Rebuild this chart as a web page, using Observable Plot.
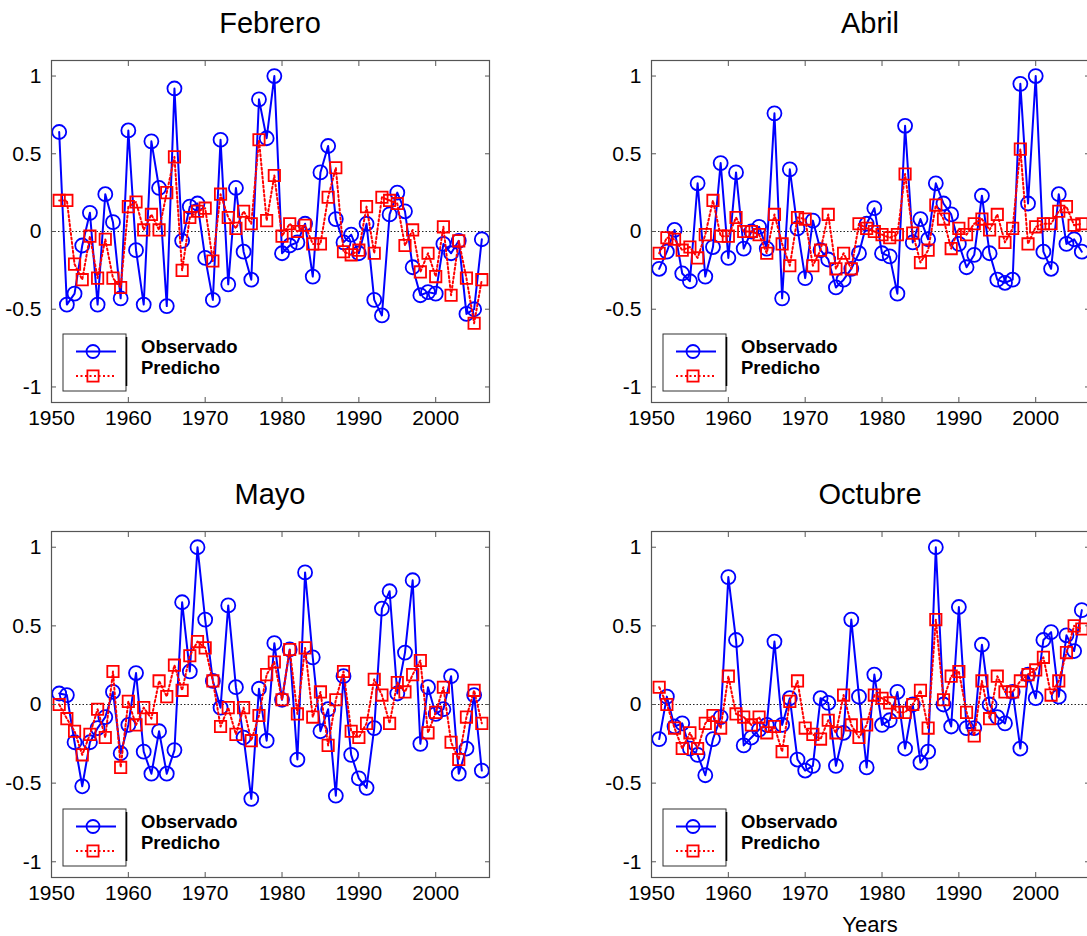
<!DOCTYPE html>
<html>
<head>
<meta charset="utf-8">
<script src="https://cdn.jsdelivr.net/npm/d3@7"></script>
<script src="https://cdn.jsdelivr.net/npm/@observablehq/plot@0.6"></script>
<style>
  html, body { margin: 0; padding: 0; background: #fff; overflow: hidden; }
  #root { position: relative; width: 1087px; height: 936px; overflow: hidden; background: #fff; }
  .panel { position: absolute; width: 520px; }
  .panel svg { display: block; max-width: none; }
</style>
</head>
<body>
<div id="root"></div>
<script>
// ---------------- DATA ----------------
const years = d3.range(1951, 2007); // 1951..2006
const xTicks = [1950, 1960, 1970, 1980, 1990, 2000];
const yTicks = [-1, -0.5, 0, 0.5, 1];
const titles = ["Febrero", "Abril", "Mayo", "Octubre"];
const legendLabels = ["Observado", "Predicho"];
const xAxisLabel = "Years";

const febreroObs = [0.64,-0.47,-0.40,-0.09,0.12,-0.47,0.24,0.06,-0.43,0.65,
  -0.12,-0.47,0.58,0.28,-0.48,0.92,-0.06,0.16,0.18,-0.17,
  -0.44,0.59,-0.34,0.28,-0.13,-0.31,0.85,0.60,1.00,-0.14,
  -0.09,-0.07,0.05,-0.29,0.38,0.55,0.08,-0.07,-0.02,-0.14,
  0.05,-0.44,-0.54,0.11,0.25,0.13,-0.23,-0.41,-0.39,-0.40,
  -0.08,-0.14,-0.06,-0.53,-0.50,-0.05];
const febreroPred = [0.20,0.20,-0.21,-0.31,-0.03,-0.30,-0.05,-0.30,-0.36,0.16,
  0.19,0.01,0.11,0.01,0.25,0.48,-0.25,0.09,0.13,0.15,
  -0.19,0.24,0.09,0.02,0.13,0.05,0.59,0.07,0.36,-0.03,
  0.05,0.00,0.04,-0.08,-0.08,0.22,0.41,-0.13,-0.15,-0.12,
  0.16,-0.14,0.22,0.20,0.18,-0.09,0.01,-0.26,-0.14,-0.29,
  0.03,-0.41,-0.06,-0.30,-0.59,-0.31];

const abrilObs = [-0.24,-0.13,0.01,-0.27,-0.32,0.31,-0.29,-0.10,0.44,-0.17,
  0.38,-0.11,0.00,0.03,-0.11,0.76,-0.43,0.40,0.02,-0.30,
  0.07,-0.12,-0.18,-0.36,-0.31,-0.24,-0.14,0.05,0.15,-0.14,
  -0.16,-0.40,0.68,-0.07,0.08,-0.05,0.31,0.18,0.11,-0.08,
  -0.23,-0.15,0.23,-0.14,-0.31,-0.33,-0.31,0.95,0.18,1.00,
  -0.13,-0.24,0.24,-0.08,-0.05,-0.13];
const abrilPred = [-0.14,-0.04,-0.05,-0.12,-0.10,-0.17,-0.02,0.20,-0.03,-0.03,
  0.09,0.00,0.00,-0.02,-0.14,0.11,-0.08,-0.22,0.09,0.08,
  -0.22,-0.12,0.11,-0.24,-0.14,-0.24,0.05,0.02,0.00,-0.02,
  -0.04,-0.02,0.37,-0.01,-0.20,-0.12,0.17,0.08,-0.11,0.02,
  -0.02,0.05,0.08,0.01,0.11,-0.07,0.02,0.53,-0.08,0.03,
  0.05,0.05,0.13,0.16,0.04,0.05];

const mayoObs = [0.07,0.06,-0.24,-0.52,-0.24,-0.15,-0.08,0.08,-0.31,-0.13,
  0.20,-0.30,-0.44,-0.17,-0.44,-0.29,0.65,0.21,1.00,0.54,
  0.15,-0.02,0.63,0.11,-0.21,-0.60,0.10,-0.23,0.39,0.03,
  0.35,-0.35,0.84,0.30,-0.17,-0.03,-0.58,0.18,-0.32,-0.47,
  -0.53,-0.15,0.61,0.72,0.07,0.33,0.79,-0.25,0.11,-0.06,
  -0.03,0.18,-0.44,-0.28,0.06,-0.42];
const mayoPred = [0.00,-0.09,-0.17,-0.32,-0.19,-0.03,-0.21,0.21,-0.40,0.02,
  -0.13,-0.02,-0.09,0.15,0.05,0.25,0.09,0.31,0.40,0.36,
  0.15,-0.14,-0.02,-0.19,-0.02,-0.23,-0.07,0.19,0.27,0.03,
  0.35,-0.06,0.36,-0.08,0.08,-0.26,0.03,0.21,-0.17,-0.21,
  -0.12,0.16,0.06,-0.12,0.14,0.08,0.19,0.28,-0.18,-0.05,
  0.11,-0.24,-0.35,-0.08,0.09,-0.12];

const octubreObs = [-0.22,0.05,-0.14,-0.12,-0.28,-0.32,-0.45,-0.22,-0.08,0.81,
  0.41,-0.26,-0.21,-0.16,-0.13,0.40,-0.13,0.04,-0.35,-0.42,
  -0.39,0.04,0.01,-0.39,-0.18,0.54,0.05,-0.40,0.19,-0.13,
  -0.10,0.08,-0.28,0.00,-0.37,-0.30,1.00,0.00,-0.14,0.62,
  -0.15,-0.15,0.38,0.00,-0.08,-0.12,0.08,-0.28,0.19,0.04,
  0.41,0.46,0.05,0.44,0.34,0.60];
const octubrePred = [0.11,0.00,-0.15,-0.28,-0.18,-0.28,-0.12,-0.07,-0.15,0.18,
  -0.06,-0.08,-0.13,-0.08,-0.18,-0.14,-0.30,0.02,0.15,-0.15,
  -0.19,-0.22,-0.10,-0.18,0.06,-0.13,-0.21,-0.13,0.06,0.04,
  0.01,-0.05,-0.05,0.00,0.09,-0.15,0.54,0.03,0.18,0.21,
  -0.05,-0.20,0.15,-0.09,0.18,0.08,0.08,0.15,0.19,0.22,
  0.30,0.06,0.15,0.33,0.50,0.48];

const series = [
  [febreroObs, febreroPred],
  [abrilObs, abrilPred],
  [mayoObs, mayoPred],
  [octubreObs, octubrePred]
];

// ---------------- LAYOUT / STYLE ----------------
const FONT = "Arial, 'Liberation Sans', Helvetica, sans-serif";
const BLUE = "#0000ff", RED = "#ff0000", FRAME = "#555";
const M = {l: 51, r: 14, t: 60, b: 60};
const innerW = 438;
const layout = [
  {left: 0,   top: 0,   plotH: 342},
  {left: 600, top: 0,   plotH: 342},
  {left: 0,   top: 471, plotH: 346},
  {left: 600, top: 471, plotH: 346, xlabel: true}
];

const root = document.getElementById("root");

function makePanel(obs, pred, plotH) {
  const rows = years.map((year, i) => ({year, obs: obs[i], pred: pred[i]}));
  return Plot.plot({
    width: M.l + innerW + M.r,
    height: M.t + plotH + M.b,
    marginLeft: M.l, marginRight: M.r, marginTop: M.t, marginBottom: M.b,
    style: {fontFamily: FONT, fontSize: "21px", color: "#000", background: "transparent", maxWidth: "none"},
    x: {domain: [1950, 2007], label: null},
    y: {domain: [-1.1, 1.1], label: null},
    marks: [
      Plot.ruleY([0], {stroke: "#222", strokeWidth: 1, strokeDasharray: "1.5,2"}),
      Plot.line(rows, {x: "year", y: "obs", stroke: BLUE, strokeWidth: 2}),
      Plot.dot(rows, {x: "year", y: "obs", r: 7, stroke: BLUE, strokeWidth: 1.8, fill: "none"}),
      Plot.line(rows, {x: "year", y: "pred", stroke: RED, strokeWidth: 2, strokeDasharray: "2,2.5"}),
      Plot.dot(rows, {x: "year", y: "pred", r: 6.4, symbol: "square", stroke: RED, strokeWidth: 1.8, fill: "none"}),
      Plot.frame({stroke: FRAME, strokeWidth: 1.2}),
      // inward tick marks on all four sides
      Plot.axisX(xTicks, {anchor: "bottom", tickSize: -5, stroke: FRAME, fill: "none", label: null}),
      Plot.axisX(xTicks, {anchor: "top", tickSize: -5, stroke: FRAME, fill: "none", label: null}),
      Plot.axisY(yTicks, {anchor: "left", tickSize: -5, stroke: FRAME, fill: "none", label: null}),
      Plot.axisY(yTicks, {anchor: "right", tickSize: -5, stroke: FRAME, fill: "none", label: null}),
      // tick labels
      Plot.axisX(xTicks, {anchor: "bottom", tickSize: 0, tickPadding: 8, tickFormat: d => String(d), fontSize: 21, fill: "#000", label: null}),
      Plot.axisY(yTicks, {anchor: "left", tickSize: 0, tickPadding: 10, tickFormat: d => String(d), fontSize: 21, fill: "#000", label: null})
    ]
  });
}

layout.forEach((p, i) => {
  const div = document.createElement("div");
  div.className = "panel";
  div.style.left = p.left + "px";
  div.style.top = p.top + "px";
  div.appendChild(makePanel(series[i][0], series[i][1], p.plotH));
  root.appendChild(div);
});

// Overlay: titles, legends, x-axis label
const overlay = d3.create("svg")
  .attr("width", 1087).attr("height", 936)
  .style("position", "absolute").style("left", "0px").style("top", "0px")
  .style("font-family", FONT);

layout.forEach((p, i) => {
  const fx0 = p.left + M.l;
  const fTop = p.top + M.t;
  const fb = fTop + p.plotH;
  overlay.append("text")
    .attr("x", fx0 + innerW / 2).attr("y", fTop - 27)
    .attr("text-anchor", "middle").attr("font-size", 29).attr("fill", "#000")
    .text(titles[i]);

  const g = overlay.append("g");
  g.append("rect").attr("x", fx0 + 12).attr("y", fb - 68).attr("width", 63).attr("height", 57)
    .attr("fill", "#fff").attr("stroke", "#333").attr("stroke-width", 1);
  g.append("line").attr("x1", fx0 + 75.5).attr("x2", fx0 + 75.5).attr("y1", fb - 65).attr("y2", fb - 16)
    .attr("stroke", "#000").attr("stroke-width", 1.6);
  g.append("line").attr("x1", fx0 + 25).attr("x2", fx0 + 65).attr("y1", fb - 50.5).attr("y2", fb - 50.5)
    .attr("stroke", BLUE).attr("stroke-width", 2);
  g.append("circle").attr("cx", fx0 + 42).attr("cy", fb - 50.5).attr("r", 6.5)
    .attr("fill", "none").attr("stroke", BLUE).attr("stroke-width", 1.8);
  g.append("line").attr("x1", fx0 + 25).attr("x2", fx0 + 65).attr("y1", fb - 26).attr("y2", fb - 26)
    .attr("stroke", RED).attr("stroke-width", 2).attr("stroke-dasharray", "2,2.5");
  g.append("rect").attr("x", fx0 + 42 - 5.6).attr("y", fb - 26 - 5.6).attr("width", 11.2).attr("height", 11.2)
    .attr("fill", "none").attr("stroke", RED).attr("stroke-width", 1.8);
  g.append("text").attr("x", fx0 + 90).attr("y", fb - 49.5)
    .attr("font-size", 18.5).attr("font-weight", "bold").attr("fill", "#000").text(legendLabels[0]);
  g.append("text").attr("x", fx0 + 90).attr("y", fb - 28)
    .attr("font-size", 18.5).attr("font-weight", "bold").attr("fill", "#000").text(legendLabels[1]);

  if (p.xlabel) {
    overlay.append("text")
      .attr("x", fx0 + innerW / 2).attr("y", fb + 55)
      .attr("text-anchor", "middle").attr("font-size", 22).attr("fill", "#000")
      .text(xAxisLabel);
  }
});

root.appendChild(overlay.node());
</script>
</body>
</html>
